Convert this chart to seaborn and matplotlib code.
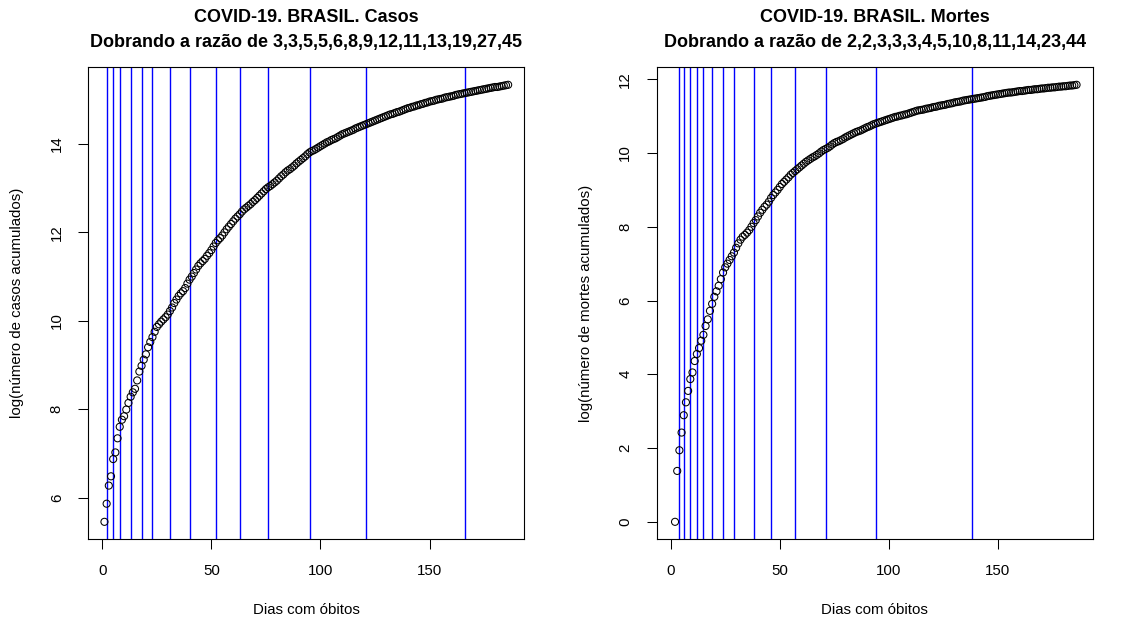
import matplotlib
matplotlib.use("Agg")
import matplotlib.pyplot as plt
import seaborn as sns
import pandas as pd

# ---------------- data ----------------
casos_dias = list(range(1, 187))
casos_log = [
    5.45, 5.86, 6.27, 6.48, 6.87, 7.02, 7.34, 7.60, 7.76, 7.84,
    7.99, 8.14, 8.28, 8.38, 8.46, 8.65, 8.85, 8.98, 9.12, 9.24,
    9.40, 9.52, 9.63, 9.75, 9.86, 9.92, 9.98, 10.03, 10.08, 10.14,
    10.22, 10.30, 10.40, 10.48, 10.56, 10.62, 10.67, 10.74, 10.84, 10.93,
    11.00, 11.08, 11.16, 11.24, 11.30, 11.35, 11.40, 11.47, 11.53, 11.60,
    11.68, 11.76, 11.82, 11.87, 11.93, 12.00, 12.07, 12.13, 12.19, 12.25,
    12.31, 12.36, 12.41, 12.47, 12.52, 12.56, 12.60, 12.64, 12.69, 12.73,
    12.78, 12.83, 12.88, 12.93, 12.98, 13.02, 13.05, 13.09, 13.13, 13.17,
    13.22, 13.27, 13.31, 13.36, 13.40, 13.43, 13.47, 13.51, 13.56, 13.60,
    13.64, 13.68, 13.72, 13.77, 13.81, 13.84, 13.86, 13.89, 13.92, 13.95,
    13.98, 14.01, 14.04, 14.06, 14.09, 14.11, 14.13, 14.16, 14.19, 14.22,
    14.24, 14.26, 14.28, 14.30, 14.32, 14.35, 14.37, 14.39, 14.41, 14.43,
    14.45, 14.47, 14.49, 14.51, 14.53, 14.55, 14.57, 14.59, 14.61, 14.63,
    14.65, 14.67, 14.68, 14.70, 14.72, 14.73, 14.75, 14.77, 14.79, 14.81,
    14.82, 14.84, 14.85, 14.87, 14.88, 14.90, 14.91, 14.93, 14.94, 14.96,
    14.97, 14.98, 15.00, 15.01, 15.02, 15.03, 15.05, 15.06, 15.07, 15.08,
    15.09, 15.11, 15.12, 15.13, 15.14, 15.15, 15.16, 15.17, 15.18, 15.19,
    15.20, 15.21, 15.22, 15.23, 15.24, 15.25, 15.26, 15.27, 15.28, 15.29,
    15.29, 15.30, 15.31, 15.32, 15.33, 15.34,
]
casos_linhas = [2, 5, 8, 13, 18, 23, 31, 40, 52, 63, 76, 95, 121, 166]
casos_titulo = "COVID-19. BRASIL. Casos"
casos_razao = "Dobrando a razão de 3,3,5,5,6,8,9,12,11,13,19,27,45"
casos_ylabel = "log(número de casos acumulados)"
casos_yticks = [6, 8, 10, 12, 14]

mortes_dias = list(range(2, 187))
mortes_log = [
    0.00, 1.38, 1.94, 2.42, 2.89, 3.24, 3.55, 3.87, 4.05, 4.36,
    4.55, 4.71, 4.91, 5.07, 5.31, 5.49, 5.72, 5.91, 6.10, 6.25,
    6.40, 6.58, 6.76, 6.90, 7.00, 7.10, 7.20, 7.30, 7.43, 7.55,
    7.65, 7.73, 7.78, 7.84, 7.91, 8.00, 8.10, 8.18, 8.28, 8.38,
    8.46, 8.54, 8.60, 8.68, 8.78, 8.86, 8.93, 9.00, 9.08, 9.16,
    9.22, 9.28, 9.34, 9.41, 9.46, 9.51, 9.56, 9.61, 9.66, 9.71,
    9.76, 9.80, 9.84, 9.88, 9.91, 9.95, 9.99, 10.04, 10.08, 10.11,
    10.14, 10.18, 10.23, 10.27, 10.30, 10.32, 10.35, 10.38, 10.42, 10.45,
    10.48, 10.51, 10.54, 10.57, 10.59, 10.61, 10.64, 10.67, 10.70, 10.72,
    10.75, 10.78, 10.80, 10.82, 10.84, 10.86, 10.88, 10.90, 10.92, 10.94,
    10.96, 10.98, 10.99, 11.01, 11.02, 11.04, 11.05, 11.07, 11.09, 11.11,
    11.13, 11.15, 11.16, 11.17, 11.18, 11.20, 11.21, 11.22, 11.24, 11.25,
    11.26, 11.28, 11.29, 11.30, 11.31, 11.33, 11.34, 11.35, 11.37, 11.38,
    11.39, 11.40, 11.42, 11.43, 11.44, 11.45, 11.46, 11.47, 11.48, 11.49,
    11.50, 11.51, 11.52, 11.54, 11.55, 11.56, 11.57, 11.58, 11.59, 11.60,
    11.61, 11.62, 11.63, 11.64, 11.64, 11.65, 11.66, 11.67, 11.68, 11.68,
    11.69, 11.70, 11.71, 11.71, 11.72, 11.73, 11.73, 11.74, 11.75, 11.75,
    11.76, 11.77, 11.77, 11.78, 11.78, 11.79, 11.80, 11.80, 11.81, 11.81,
    11.82, 11.83, 11.83, 11.84, 11.85,
]
mortes_linhas = [4, 6, 9, 12, 15, 19, 24, 29, 38, 46, 57, 71, 94, 138]
mortes_titulo = "COVID-19. BRASIL. Mortes"
mortes_razao = "Dobrando a razão de 2,2,3,3,3,4,5,10,8,11,14,23,44"
mortes_ylabel = "log(número de mortes acumulados)"
mortes_yticks = [0, 2, 4, 6, 8, 10, 12]

xlabel = "Dias com óbitos"
xticks = [0, 50, 100, 150]
x_range = (1, 186)

# ---------------- styling ----------------
sns.set_theme(style="ticks")
plt.rcParams["font.family"] = ["Liberation Sans", "DejaVu Sans"]
plt.rcParams["text.color"] = "black"
plt.rcParams["axes.labelcolor"] = "black"
plt.rcParams["xtick.color"] = "black"
plt.rcParams["ytick.color"] = "black"
plt.rcParams["axes.linewidth"] = 0.8
plt.rcParams["axes.edgecolor"] = "black"

W, H = 1136, 628
fig = plt.figure(figsize=(W / 100, H / 100), dpi=100)
fig.patch.set_facecolor("white")

base_fs = 10.8   # 15 px
title_fs = 12.96  # 18 px

ax_w, ax_h = 436 / W, 472 / H
bottom = 1 - 539.3 / H
axes = [
    fig.add_axes([88.3 / W, bottom, ax_w, ax_h]),
    fig.add_axes([656.7 / W, bottom, ax_w, ax_h]),
]

panels = [
    (casos_dias, casos_log, casos_linhas, casos_titulo, casos_razao, casos_ylabel, casos_yticks),
    (mortes_dias, mortes_log, mortes_linhas, mortes_titulo, mortes_razao, mortes_ylabel, mortes_yticks),
]

for ax, (dias, vals, linhas, t1, t2, ylab, yt) in zip(axes, panels):
    df = pd.DataFrame({"dia": dias, "valor": vals})
    for xv in linhas:
        ax.axvline(xv, color="#0000FF", lw=1.0, zorder=1)
    sns.scatterplot(data=df, x="dia", y="valor", ax=ax, marker="o",
                    facecolor="none", edgecolor="black", s=26, linewidth=0.75,
                    zorder=3, legend=False)
    xr = x_range[1] - x_range[0]
    ax.set_xlim(x_range[0] - 0.04 * xr, x_range[1] + 0.04 * xr)
    ymin, ymax = min(vals), max(vals)
    yr = ymax - ymin
    ax.set_ylim(ymin - 0.04 * yr, ymax + 0.04 * yr)
    ax.set_xticks(xticks, labels=[str(v) for v in xticks])
    ax.set_yticks(yt, labels=[str(v) for v in yt], rotation=90, va="center", ha="right")
    ax.tick_params(axis="both", direction="out", length=7.2, width=0.75,
                   labelsize=base_fs, pad=10.4, colors="black")
    for sp in ax.spines.values():
        sp.set_visible(True)
        sp.set_color("black")
        sp.set_linewidth(0.8)
    ax.set_xlabel(xlabel, fontsize=base_fs, va="center", color="black")
    ax.set_ylabel(ylab, fontsize=base_fs, va="center", color="black")
    ax.xaxis.set_label_coords(0.5, -71 / 472)
    ax.yaxis.set_label_coords(-71 / 436, 0.5)
    ax.text(0.5, (539.3 - 17) / 472, t1, transform=ax.transAxes, ha="center",
            va="center", fontsize=title_fs, fontweight="bold", color="black")
    ax.text(0.5, (539.3 - 43) / 472, t2, transform=ax.transAxes, ha="center",
            va="center", fontsize=title_fs, fontweight="bold", color="black")
    ax.grid(False)

fig.savefig("out.png", dpi=100, facecolor="white")
